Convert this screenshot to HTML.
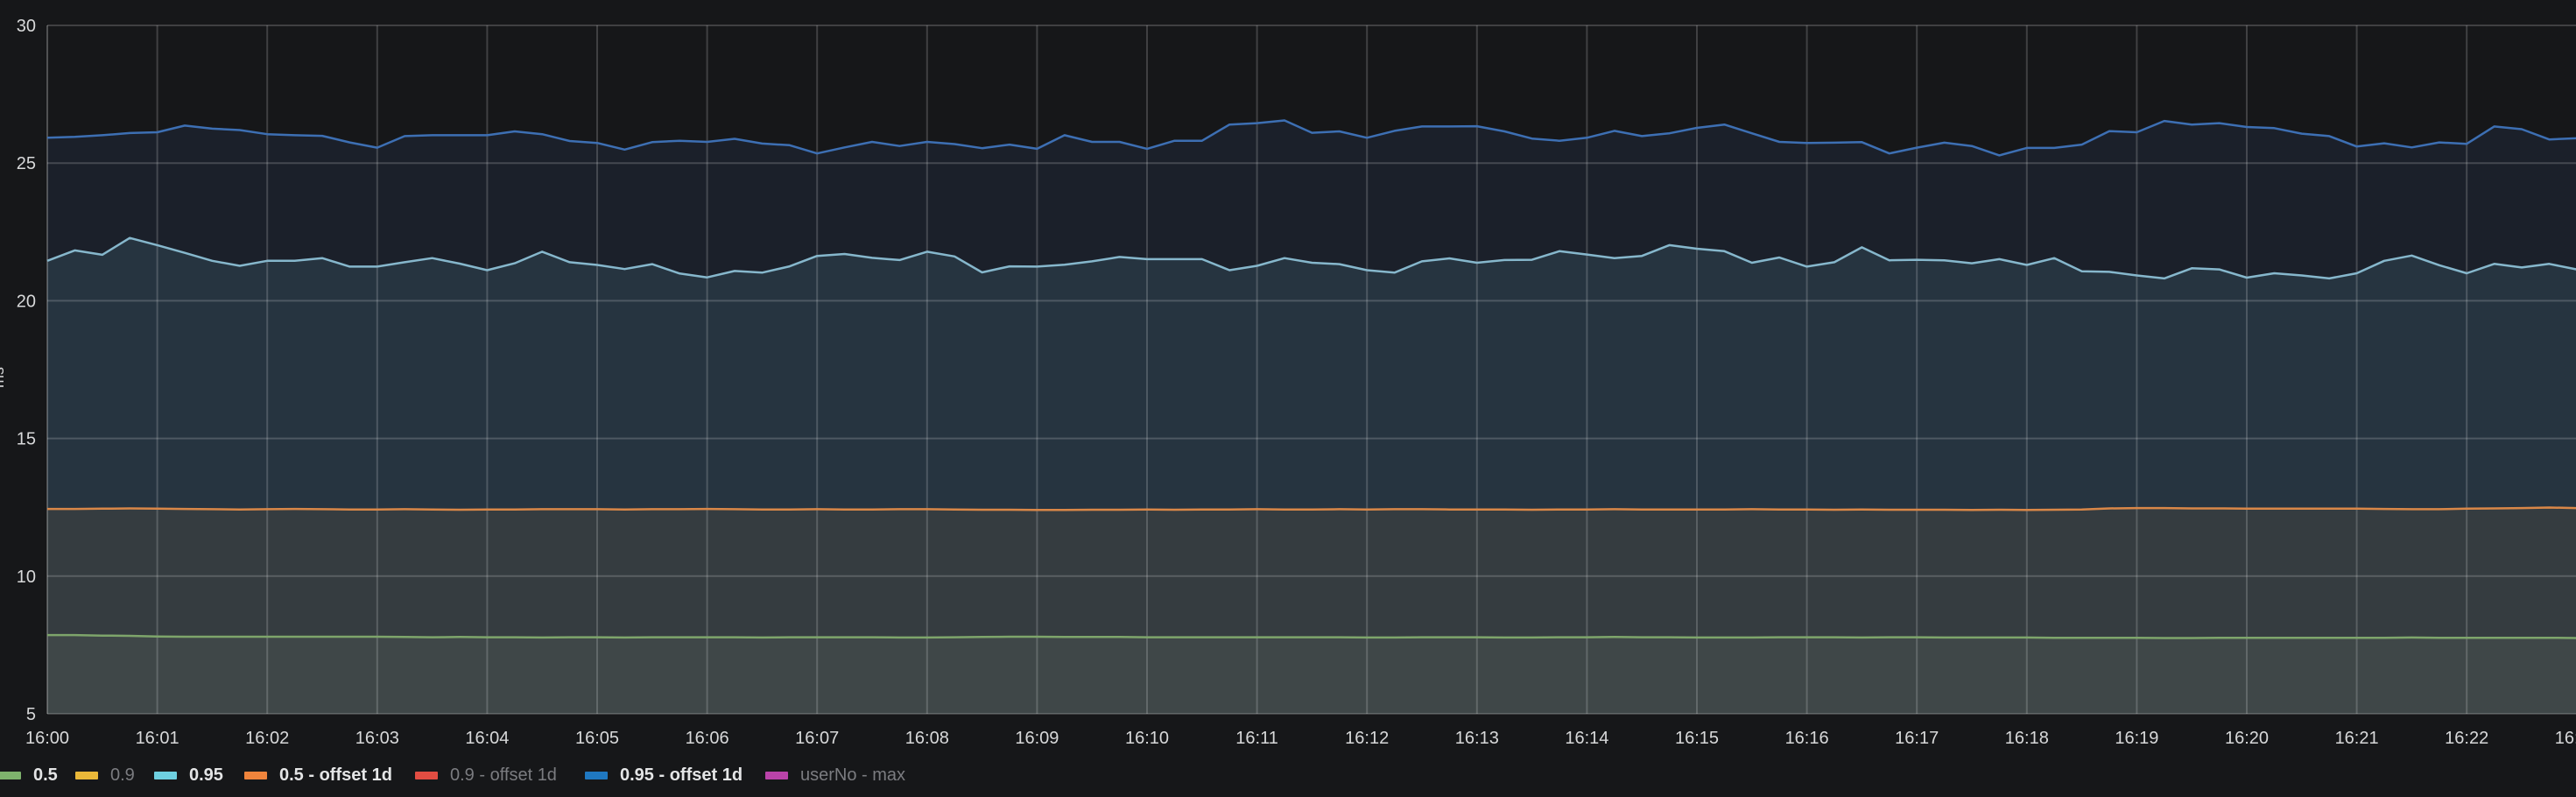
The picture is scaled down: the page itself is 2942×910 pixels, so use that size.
<!DOCTYPE html>
<html><head><meta charset="utf-8">
<style>
html,body{margin:0;padding:0;background:#161719;width:2942px;height:910px;overflow:hidden;font-family:"Liberation Sans",sans-serif;}
svg{position:absolute;left:0;top:0}
.leg{position:absolute;top:872px;height:26px;display:flex;align-items:center;font-size:20px;}
.sw{display:inline-block;width:26px;height:9px;border-radius:1px;margin-right:14px}
.on{color:#e4e5e6;font-weight:bold}
.off{color:#7b7c80}
</style></head>
<body>
<svg id="chart" width="2942" height="910" xmlns="http://www.w3.org/2000/svg"></svg>

<div class="leg" style="left:-2px"><span class="sw" style="background:#7eb26d"></span><span class="on">0.5</span></div>
<div class="leg" style="left:86px"><span class="sw" style="background:#eab839"></span><span class="off">0.9</span></div>
<div class="leg" style="left:176px"><span class="sw" style="background:#6ed0e0"></span><span class="on">0.95</span></div>
<div class="leg" style="left:279px"><span class="sw" style="background:#ef843c"></span><span class="on">0.5 - offset 1d</span></div>
<div class="leg" style="left:474px"><span class="sw" style="background:#e24d42"></span><span class="off">0.9 - offset 1d</span></div>
<div class="leg" style="left:668px"><span class="sw" style="background:#1f78c1"></span><span class="on">0.95 - offset 1d</span></div>
<div class="leg" style="left:874px"><span class="sw" style="background:#ba43a9"></span><span class="off">userNo - max</span></div>

<script>
const yTicks = [5, 10, 15, 20, 25, 30];
const xTickLabels = ["16:00","16:01","16:02","16:03","16:04","16:05","16:06","16:07","16:08","16:09","16:10","16:11","16:12","16:13","16:14","16:15","16:16","16:17","16:18","16:19","16:20","16:21","16:22","16:23"];
const p95Offset = [25.92,25.95,26.01,26.09,26.12,26.36,26.25,26.20,26.05,26.01,25.99,25.75,25.56,25.98,26.01,26.01,26.01,26.15,
26.05,25.80,25.73,25.49,25.76,25.81,25.77,25.88,25.71,25.65,25.35,25.57,25.77,25.62,25.77,25.69,25.54,25.67,25.52,26.01,25.77,25.77,25.52,25.81,25.81,26.40,26.45,26.55,26.10,
26.15,25.92,26.17,26.33,26.33,26.34,26.15,25.89,25.81,25.92,26.17,25.98,26.08,26.28,26.40,26.08,25.77,25.73,25.74,25.76,25.35,25.56,25.74,25.62,25.28,25.55,25.55,25.67,
26.16,26.12,26.53,26.40,26.45,26.31,26.27,26.07,25.98,25.60,25.72,25.57,25.75,25.70,26.33,26.23,25.86,25.90];
const p95 = [21.45,21.83,21.67,22.28,22.02,21.74,21.45,21.27,21.45,21.45,21.55,21.24,21.24,21.40,21.55,21.35,21.11,21.36,
21.78,21.40,21.30,21.15,21.33,20.99,20.85,21.08,21.02,21.25,21.63,21.70,21.56,21.48,21.78,21.61,21.03,21.25,21.24,21.31,21.43,21.59,21.51,21.51,21.51,21.11,21.27,21.55,
21.38,21.33,21.11,21.02,21.43,21.54,21.38,21.48,21.49,21.80,21.68,21.55,21.63,22.02,21.89,21.80,21.38,21.57,21.24,21.40,21.94,21.47,21.49,21.47,21.36,21.51,21.30,21.55,21.07,
21.05,20.92,20.81,21.18,21.14,20.84,21.00,20.92,20.81,21.00,21.45,21.64,21.29,21.00,21.34,21.21,21.34,21.14];
const p50Offset = [12.44,12.44,12.45,12.46,12.45,12.44,12.43,12.42,12.43,12.44,12.43,12.42,12.42,12.43,12.42,12.41,12.42,12.42,
12.43,12.43,12.43,12.42,12.43,12.43,12.44,12.43,12.42,12.42,12.43,12.42,12.42,12.43,12.43,12.42,12.41,12.41,12.40,12.40,12.41,12.41,12.42,12.41,12.42,12.42,12.43,12.42,12.42,
12.43,12.42,12.43,12.43,12.42,12.42,12.42,12.41,12.42,12.42,12.43,12.42,12.42,12.42,12.42,12.43,12.42,12.42,12.41,12.42,12.41,12.41,12.41,12.40,12.41,12.40,12.41,12.42,
12.46,12.47,12.47,12.46,12.46,12.45,12.45,12.45,12.45,12.45,12.44,12.43,12.43,12.45,12.46,12.47,12.49,12.47];
const p50 = [7.86,7.86,7.84,7.83,7.81,7.80,7.80,7.80,7.80,7.80,7.80,7.80,7.80,7.79,7.78,7.79,7.78,7.78,
7.77,7.78,7.78,7.77,7.78,7.78,7.78,7.78,7.77,7.78,7.78,7.78,7.78,7.77,7.77,7.78,7.79,7.80,7.80,7.79,7.79,7.79,7.78,7.78,7.78,7.78,7.78,7.78,7.78,
7.78,7.77,7.77,7.78,7.78,7.78,7.77,7.77,7.78,7.78,7.79,7.78,7.78,7.77,7.77,7.77,7.78,7.78,7.78,7.77,7.78,7.78,7.77,7.77,7.77,7.77,7.76,7.76,7.76,
7.76,7.75,7.75,7.76,7.76,7.76,7.76,7.76,7.76,7.76,7.77,7.76,7.76,7.76,7.76,7.76,7.75,7.75];

const NS = "http://www.w3.org/2000/svg";
const svg = document.getElementById('chart');
const L = 54, R = 2942, T = 29, B = 815;
const minPx = 125.6, stepPx = minPx / 4;
const yMin = 5, yMax = 30;
function yS(v){ return B - (v - yMin) / (yMax - yMin) * (B - T); }
function xS(i){ return L + i * stepPx; }
function xMin(m){ return L + m * minPx; }
function mk(tag, attrs){ const e = document.createElementNS(NS, tag); for (const k in attrs) e.setAttribute(k, attrs[k]); svg.appendChild(e); return e; }

const series = [
  {data:p95Offset, fill:"#1b202a", stroke:"#3d6fb3", name:"series-0.95-offset-1d"},
  {data:p95, fill:"#263440", stroke:"#86b7cc", name:"series-0.95"},
  {data:p50Offset, fill:"#353c40", stroke:"#d98748", name:"series-0.5-offset-1d"},
  {data:p50, fill:"#3f4748", stroke:"#7ea56b", name:"series-0.5"}
];
series.forEach(s => {
  let pts = s.data.map((v,i) => xS(i).toFixed(1) + "," + yS(v).toFixed(1));
  const area = mk('polygon', {points: xS(0)+","+B+" "+pts.join(" ")+" "+xS(s.data.length-1)+","+B, fill: s.fill});
  
  
});
yTicks.forEach(t => {
  const g = mk('line', {x1:L, x2:R, y1:yS(t), y2:yS(t), stroke:"rgba(255,255,255,0.18)", "stroke-width":2});
  
  
  const tx = mk('text', {x:41, y:yS(t)+7, fill:"#d8d9da", "font-size":20, "text-anchor":"end", "font-family":"Liberation Sans, sans-serif"});
  tx.textContent = t;
  
  
});
xTickLabels.forEach((lab, m) => {
  const x = xMin(m);
  if (m > 0 && x < R) {
    const g = mk('line', {x1:x, x2:x, y1:T, y2:B, stroke:"rgba(255,255,255,0.18)", "stroke-width":2});
    
    
  }
  const tx = mk('text', {x:x, y:849, fill:"#d8d9da", "font-size":20, "text-anchor":"middle", "font-family":"Liberation Sans, sans-serif"});
  tx.textContent = lab;
  
  
});
const yAxis = mk('line', {x1:L, x2:L, y1:T, y2:B, stroke:"rgba(255,255,255,0.25)", "stroke-width":2});


series.forEach(s => {
  const pts = s.data.map((v,i) => xS(i).toFixed(1) + "," + yS(v).toFixed(1)).join(" ");
  const ln = mk('polyline', {points: pts, fill:"none", stroke:s.stroke, "stroke-width":2.5, "stroke-linejoin":"round"});
  
  
});
const yt = mk('text', {x:0, y:0, fill:"#d8d9da", "font-size":18, "text-anchor":"middle", transform:"translate(4,431) rotate(-90)", "font-family":"Liberation Sans, sans-serif"});
yt.textContent = "ms";


</script>
</body></html>
